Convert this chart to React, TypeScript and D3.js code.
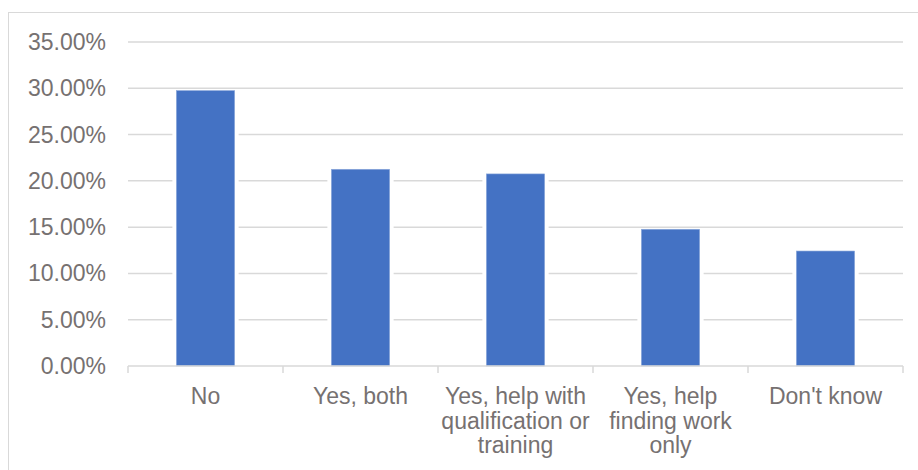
import React from "react";
import * as d3 from "d3";

const categories: string[][] = [
  ["No"],
  ["Yes, both"],
  ["Yes, help with", "qualification or", "training"],
  ["Yes, help", "finding work", "only"],
  ["Don't know"],
];
const values: number[] = [0.2975, 0.2125, 0.2075, 0.1477, 0.1242];
const yTicks: number[] = [0, 0.05, 0.1, 0.15, 0.2, 0.25, 0.3, 0.35];

const W = 918;
const H = 470;
const plotLeft = 128;
const plotRight = 903;
const plotTop = 42;
const plotBottom = 366;
const textColor = "#767171";
const gridColor = "#d9d9d9";
const barColor = "#4472C4";
const font = "'Liberation Sans', Arial, sans-serif";

export default function App() {
  const keys = categories.map((c, i) => String(i));
  const x = d3.scaleBand<string>().domain(keys).range([plotLeft, plotRight]).paddingInner(0.624).paddingOuter(0.312);
  const y = d3.scaleLinear().domain([0, 0.35]).range([plotBottom, plotTop]);
  const band = d3.scaleBand<string>().domain(keys).range([plotLeft, plotRight]);
  const fmt = (v: number) => (v * 100).toFixed(2) + "%";
  const boundaries = [...keys.map((k) => band(k) as number), plotRight];

  return (
    <svg
      width={W}
      height={H}
      style={{ position: "absolute", left: 0, top: 0, background: "#fff" }}
      fontFamily={font}
    >
      <rect x={8.5} y={12.5} width={W + 10} height={H} fill="#fff" stroke={gridColor} strokeWidth={1} />
      {yTicks.filter((t) => t > 0).map((t) => (
        <line key={"g" + t} x1={plotLeft} x2={plotRight} y1={y(t)} y2={y(t)} stroke={gridColor} strokeWidth={1.5} />
      ))}
      {yTicks.map((t) => (
        <text key={"t" + t} x={106} y={y(t)} dy="0.35em" textAnchor="end" fontSize={23} fill={textColor}>
          {fmt(t)}
        </text>
      ))}
      {values.map((v, i) => {
        const bx = x(String(i)) as number;
        const bw = x.bandwidth();
        return (
          <g key={"b" + i}>
            <rect x={bx - 4} y={y(v) - 1} width={bw + 8} height={plotBottom - y(v) + 1} fill="#fff" />
            <rect x={bx} y={y(v)} width={bw} height={plotBottom - y(v)} fill={barColor} stroke="#8eaadb" strokeWidth={0.6} />
          </g>
        );
      })}
      <line x1={plotLeft} x2={plotRight} y1={plotBottom} y2={plotBottom} stroke={gridColor} strokeWidth={1.5} />
      {boundaries.map((b, i) => (
        <line key={"tk" + i} x1={b} x2={b} y1={plotBottom} y2={plotBottom + 7} stroke={gridColor} strokeWidth={1.5} />
      ))}
      {categories.map((lines, i) => {
        const cx = (band(String(i)) as number) + band.bandwidth() / 2;
        return (
          <text key={"c" + i} x={cx} y={404} textAnchor="middle" fontSize={23} fill={textColor}>
            {lines.map((l, j) => (
              <tspan key={j} x={cx} y={404 + j * 24.5}>
                {l}
              </tspan>
            ))}
          </text>
        );
      })}
    </svg>
  );
}
